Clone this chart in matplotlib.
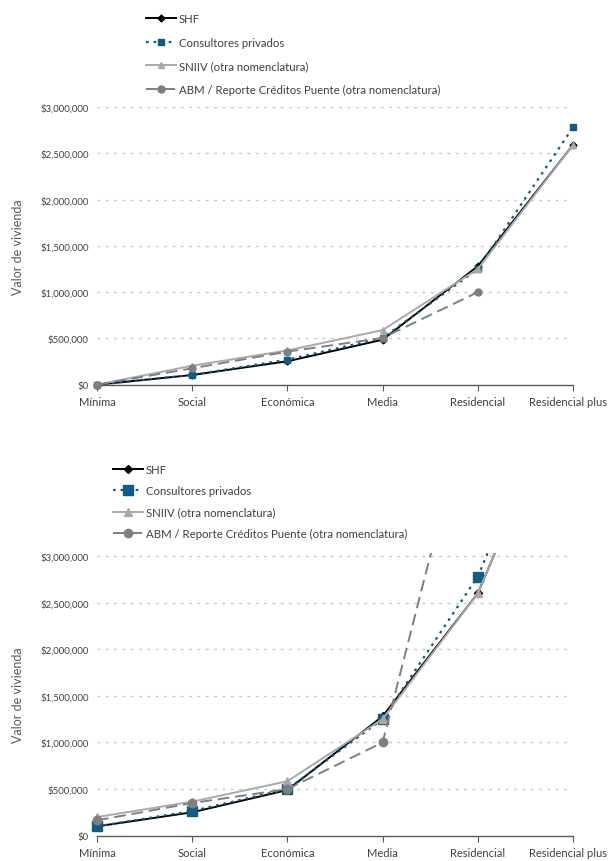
import matplotlib
matplotlib.use("Agg")
import matplotlib.pyplot as plt
from matplotlib.transforms import Bbox, TransformedBbox, ScaledTranslation
from matplotlib.ticker import FuncFormatter, MultipleLocator

plt.rcParams['font.family'] = ['Lato', 'DejaVu Sans']

categories = ["Mínima", "Social", "Económica", "Media", "Residencial", "Residencial plus"]
series_names = ["SHF", "Consultores privados", "SNIIV (otra nomenclatura)",
                "ABM / Reporte Créditos Puente (otra nomenclatura)"]

# Top panel (lower bound of each range)
shf_low = [0, 105000, 253000, 486000, 1280000, 2590000]
cons_low = [0, 105000, 270000, 505000, 1250000, 2780000]
sniiv_low = [0, 205000, 370000, 590000, 1250000, 2590000]
abm_low = [0, 177000, 357000, 505000, 1000000, None]

# Bottom panel (upper bound of each range)
shf_high = [100000, 251000, 490000, 1280000, 2600000, 5000000]
cons_high = [100000, 265000, 500000, 1250000, 2780000, 5200000]
sniiv_high = [200000, 365000, 584000, 1250000, 2600000, 5000000]
abm_high = [165000, 350000, 500000, 1000000, 5000000, None]

styles = [
    dict(color="#000000", ls="-", lw=1.4, marker="D"),
    dict(color="#0f5c85", ls=(0, (1.2, 2.2)), lw=1.6, marker="s"),
    dict(color="#a9a9a9", ls="-", lw=1.4, marker="^"),
    dict(color="#7f7f7f", ls=(0, (6, 3)), lw=1.4, marker="o"),
]

fig = plt.figure(figsize=(6.10, 8.62), dpi=100)

def money(v, _):
    return "${:,.0f}".format(v)

def setup(ax, ymax):
    ax.set_xlim(0, 5)
    ax.set_ylim(0, ymax)
    ax.yaxis.set_major_locator(MultipleLocator(500000))
    ax.yaxis.set_major_formatter(FuncFormatter(money))
    for s in ["top", "right", "left"]:
        ax.spines[s].set_visible(False)
    ax.spines["bottom"].set_color("#595959")
    ax.spines["bottom"].set_linewidth(1.0)
    ax.set_xticks(range(len(categories)))
    ax.set_xticklabels(categories)
    ax.tick_params(axis="x", length=4, color="#595959", labelsize=8,
                   labelcolor="#404040", pad=4)
    ax.tick_params(axis="y", length=0, labelsize=6.9, labelcolor="#404040", pad=6)
    last = ax.get_xticklabels()[-1]
    last.set_transform(last.get_transform() + ScaledTranslation(-5 / 100, 0, fig.dpi_scale_trans))
    for v in range(500000, 3000001, 500000):
        ax.axhline(v, xmax=0.99, color="#c8c8c8", lw=1.0, ls=(0, (2, 4)), zorder=0)
    ax.set_ylabel("Valor de vivienda", fontsize=9, color="#595959", labelpad=12)
    ax.patch.set_alpha(0)

def draw(ax, data, msizes, clip):
    handles = []
    for vals, st, name, ms in zip(data, styles, series_names, msizes):
        xs = [i for i, v in enumerate(vals) if v is not None]
        ys = [v for v in vals if v is not None]
        (ln,) = ax.plot(xs, ys, color=st["color"], ls=st["ls"], lw=st["lw"],
                        marker=st["marker"], ms=ms, mfc=st["color"], mec=st["color"],
                        label=name, zorder=3)
        if clip:
            ln.set_clip_box(TransformedBbox(Bbox([[-0.05, -0.05], [1.05, 1.0]]),
                                            ax.transAxes))
        else:
            ln.set_clip_on(False)
        handles.append(ln)
    return handles

# top axes
ax1 = fig.add_axes([97 / 610, 476.3 / 862, 476 / 610, 277.7 / 862])
setup(ax1, 3000000)
h1 = draw(ax1, [shf_low, cons_low, sniiv_low, abm_low], [3.5, 4, 4.5, 5], clip=False)
fig.legend(handles=h1, loc="upper left", bbox_to_anchor=(146 / 610, 1 - 14 / 862),
           frameon=False, fontsize=8.2, handlelength=2.6, handletextpad=0.3,
           labelspacing=1.1, borderaxespad=0, borderpad=0, labelcolor="#404040")

# bottom axes
ax2 = fig.add_axes([97 / 610, 25.3 / 862, 476 / 610, 282.5 / 862])
setup(ax2, 3030000)
h2 = draw(ax2, [shf_high, cons_high, sniiv_high, abm_high], [4, 6.5, 6, 6], clip=True)
fig.legend(handles=h2, loc="upper left", bbox_to_anchor=(113 / 610, 1 - 465 / 862),
           frameon=False, fontsize=8.2, handlelength=2.6, handletextpad=0.3,
           labelspacing=0.9, borderaxespad=0, borderpad=0, labelcolor="#404040")

fig.savefig("out.png", dpi=100)
